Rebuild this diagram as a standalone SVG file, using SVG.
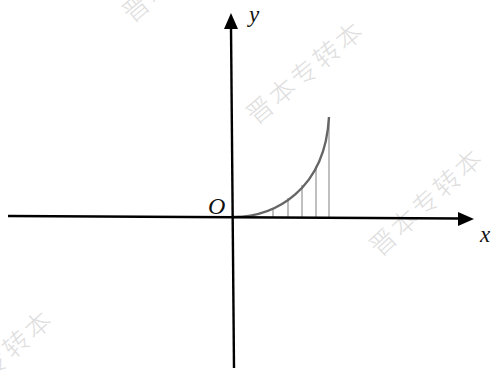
<svg xmlns="http://www.w3.org/2000/svg" width="492" height="372" viewBox="0 0 492 372">
<style>
.wm{font-family:"Noto Sans CJK SC","Noto Sans",sans-serif;font-size:26px;font-weight:300;fill:#dedede;letter-spacing:3px}
.axis{stroke:#000;stroke-width:2.4;fill:none}
.lbl{font-family:"Liberation Serif",serif;font-style:italic;fill:#111}
.strip{stroke:#aaa;stroke-width:1.5}
</style>
<rect width="492" height="372" fill="#fff"/>
<g id="watermarks">
<text class="wm" transform="translate(256,126) rotate(-40)">晋本专转本</text>
<text class="wm" transform="translate(380,258) rotate(-43)">晋本专转本</text>
<text class="wm" transform="translate(-52,418) rotate(-42)">晋本专转本</text>
<text class="wm" transform="translate(132,24) rotate(-40)">晋本专转本</text>
</g>
<g id="strips">
<line class="strip" x1="273" y1="217" x2="273" y2="208"/>
<line class="strip" x1="288" y1="217" x2="288" y2="198"/>
<line class="strip" x1="302" y1="217" x2="302" y2="185"/>
<line class="strip" x1="316" y1="217" x2="316" y2="166"/>
<line class="strip" x1="329" y1="217" x2="329" y2="118"/>
</g>
<g id="curve">
<path d="M233,217 C275,217 325,190 329,117" fill="none" stroke="#666" stroke-width="2.4"/>
</g>
<g id="connectors">
<line class="axis" x1="8" y1="216" x2="460" y2="218.5"/>
<polygon points="474,219 458,212 458,226" fill="#000"/>
<line class="axis" x1="234" y1="368" x2="231" y2="27"/>
<polygon points="231,13 224,29 238,29" fill="#000"/>
</g>
<g id="labels">
<text class="lbl" x="208" y="214" font-size="24">O</text>
<text class="lbl" x="249" y="22" font-size="23">y</text>
<text class="lbl" x="480" y="242" font-size="23">x</text>
</g>
</svg>
